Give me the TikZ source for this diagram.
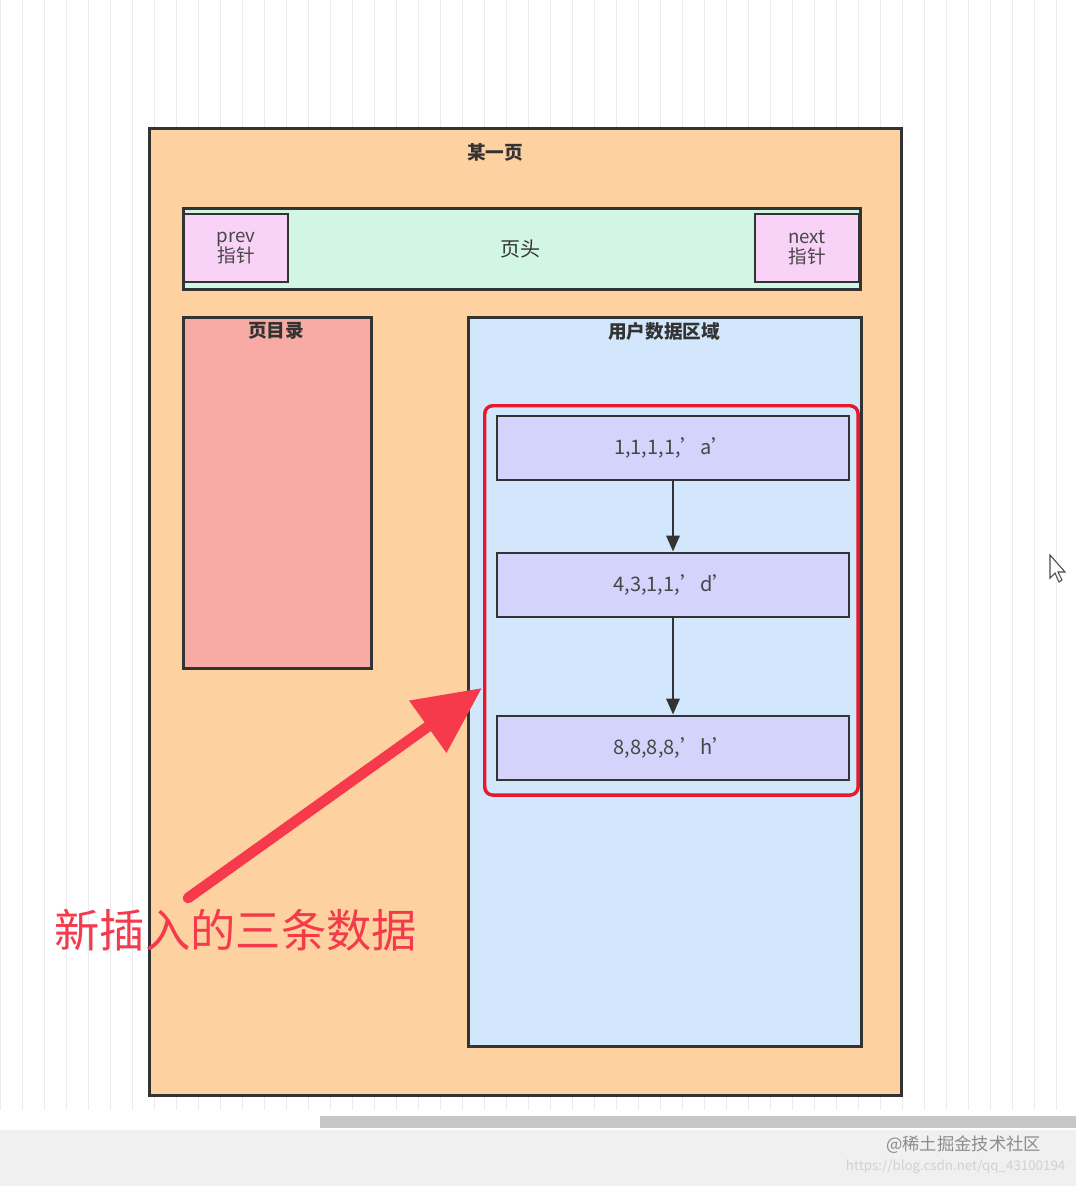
\documentclass[tikz,border=0pt]{standalone}
\usepackage{fontspec}
\setmainfont{Noto Sans CJK SC}
\usetikzlibrary{arrows.meta}
\definecolor{edge}{HTML}{333333}
\definecolor{peach}{HTML}{FDD1A0}
\definecolor{mint}{HTML}{D2F6E4}
\definecolor{pinkb}{HTML}{F9D2F8}
\definecolor{salmon}{HTML}{F8ABA4}
\definecolor{skyb}{HTML}{D2E7FB}
\definecolor{lav}{HTML}{D3D3FB}
\definecolor{redl}{HTML}{E8192D}
\definecolor{reda}{HTML}{F43A4B}
\tikzset{box/.style={draw=edge,line width=2.2pt},
rec/.style={box,fill=lav,minimum width=264pt,minimum height=48pt,font=\fontsize{15}{18}\selectfont,text=edge!90},
lab/.style={font=\bfseries\fontsize{14}{16}\selectfont,text=edge},
ptr/.style={box,line width=1.8pt,fill=pinkb,minimum width=78pt,minimum height=51pt,align=center,font=\fontsize{14}{15}\selectfont,text=edge!90,inner sep=0pt},
flow/.style={draw=edge,line width=1.8pt,-{Triangle[length=12pt,width=10pt]}}}
\begin{document}
\begin{tikzpicture}[x=0.75pt,y=-0.75pt]
\useasboundingbox (0,0) rectangle (1076,1186);
\fill[white] (0,0) rectangle (1076,1186);
\draw[black!8,line width=0.6pt] (0,0) grid[step=22] (1076,1110);
% bottom bars
\fill[black!6] (0,1130) rectangle (1076,1186);
\fill[black!22] (320,1116) rectangle (1076,1128);
\node[text=black!45,font=\fontsize{13}{14}\selectfont,anchor=east] (wm1) at (1046,1145) {@稀土掘金技术社区};
\node[text=black!18,font=\fontsize{10}{11}\selectfont,anchor=east] (wm2) at (1070,1167) {https://blog.csdn.net/qq\_43100194};
% page
\node[box,fill=peach,minimum width=564pt,minimum height=725pt,anchor=north west,inner sep=0pt] (page) at (148,127) {};
\node[lab] (ptitle) at (495,152) {某一页};
\node[box,fill=mint,minimum width=508pt,minimum height=61pt,anchor=north west,inner sep=0pt] (head) at (182,207) {};
\node[lab,font=\fontsize{15}{16}\selectfont] (htitle) at (520,249) {页头};
\node[ptr] (prev) at (236,248) {prev\\指针};
\node[ptr] (next) at (807,248) {next\\指针};
\node[box,fill=salmon,minimum width=141pt,minimum height=263pt,anchor=north west,inner sep=0pt] (dir) at (182,316) {};
\node[lab] (dirt) at (276,331) {页目录};
\node[box,fill=skyb,minimum width=295pt,minimum height=547pt,anchor=north west,inner sep=0pt] (user) at (467,316) {};
\node[lab] (usert) at (664,331) {用户数据区域};
\node[draw=redl,line width=2.6pt,rounded corners=6pt,minimum width=280pt,minimum height=292pt,anchor=north west,inner sep=0pt] (sel) at (483,404) {};
\node[rec] (r1) at (673,448) {1,1,1,1,'a'};
\node[rec] (r2) at (673,585) {4,3,1,1,'d'};
\node[rec] (r3) at (673,748) {8,8,8,8,'h'};
\draw[flow] (r1) -- (r2);
\draw[flow] (r2) -- (r3);
% big arrow
\coordinate (as) at (188,898);
\coordinate (ae) at (482,688);
\draw[reda,line width=8pt,line cap=round,-{Triangle[length=50pt,width=46pt]}] (as) -- (ae);
\node[text=reda,font=\fontsize{34}{36}\selectfont] (note) at (236,930) {新插入的三条数据};
% cursor
\draw[black!70,fill=white,line width=0.8pt] (1050,555) -- (1050,578) -- (1055,573) -- (1059,582) -- (1062,580) -- (1058,572) -- (1065,572) -- cycle;
\end{tikzpicture}
\end{document}
